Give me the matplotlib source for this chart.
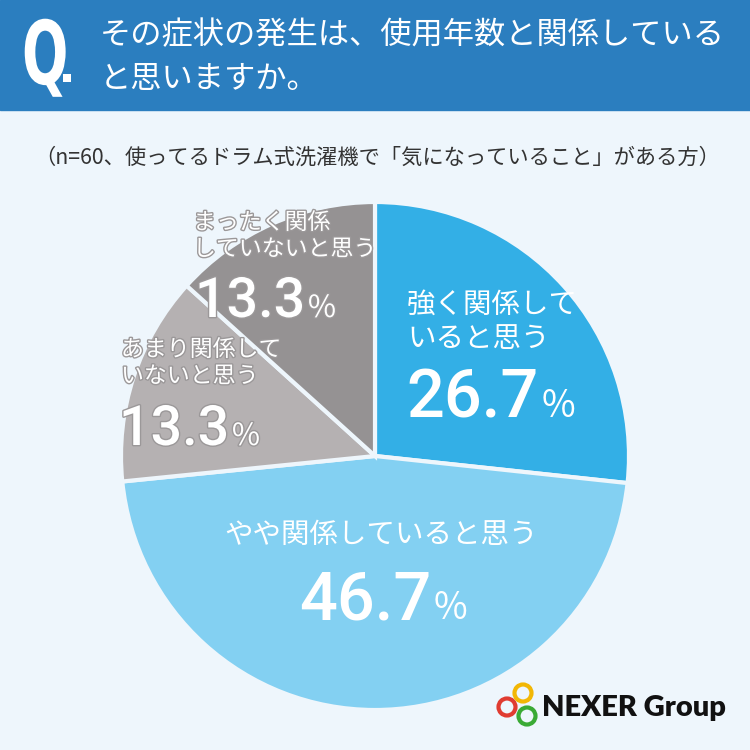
import matplotlib.pyplot as plt
import matplotlib.patheffects as pe
from matplotlib.patches import Rectangle, Circle, PathPatch
from matplotlib.textpath import TextPath
from matplotlib.font_manager import FontProperties
from matplotlib.transforms import Affine2D

plt.rcParams['font.family'] = ['Noto Sans CJK JP', 'DejaVu Sans']

# data
answers = ['強く関係して\nいると思う', 'やや関係していると思う',
           'あまり関係して\nいないと思う', 'まったく関係\nしていないと思う']
shares = [26.7, 46.7, 13.3, 13.3]
colors = ['#33afe6', '#83d0f2', '#b5b1b2', '#959293']
title = 'その症状の発生は、使用年数と関係している\nと思いますか。'
note = '（n=60、使ってるドラム式洗濯機で「気になっていること」がある方）'

W = 750
bg = '#eef6fc'
numfont = dict(family='Roboto', fontweight='medium')
fig = plt.figure(figsize=(7.5, 7.5), dpi=100, facecolor=bg)


def P(x, y):
    return x / W, 1 - y / W


# header band
fig.patches.append(Rectangle((0, 1 - 110 / W), 1, 110 / W, transform=fig.transFigure,
                             color='#2b7ebf', zorder=0))
# narrow bold Q, drawn as a squeezed text path (in pixels)
qpath = TextPath((0, 0), 'Q', size=88, prop=FontProperties(family='DejaVu Sans', weight='bold'))
qtr = Affine2D().scale(0.62, 1.0).translate(22, W - 84)
fig.patches.append(PathPatch(qtr.transform_path(qpath), color='white', lw=0,
                             transform=None, figure=fig))
fig.patches.append(Rectangle(P(63, 82), 8 / W, 8 / W, transform=fig.transFigure,
                             color='white', lw=0))
fig.text(*P(100, 57), title, color='white', fontsize=22.5, va='center', ha='left',
         linespacing=1.45)
fig.text(*P(377, 158), note, color='#333333', fontsize=15.3, va='center', ha='center')

# pie
cx, cy, r = 375, 456, 254
ax = fig.add_axes([(cx - r) / W, 1 - (cy + r) / W, 2 * r / W, 2 * r / W])
ax.pie(shares, colors=colors, startangle=90, counterclock=False,
       wedgeprops=dict(edgecolor=bg, linewidth=3))
ax.set_xlim(-1, 1)
ax.set_ylim(-1, 1)
ax.set_aspect('equal')
ax.axis('off')

renderer = fig.canvas.get_renderer()


def pct(x, y, value, size, ha='left', fx=None):
    kw = dict(color='white', va='baseline')
    if fx:
        kw['path_effects'] = fx
    t = fig.text(*P(x, y), f'{value:.1f}', fontsize=size, ha='left', **numfont, **kw)
    bb = t.get_window_extent(renderer)
    if ha == 'center':
        # shift so number + % is centered at x
        pw = size * 0.55
        shift = (bb.width + pw) / 2
        t.set_position(P(x - shift, y))
        bb = t.get_window_extent(renderer)
    fig.text(bb.x1 / W + 3 / W, P(0, y)[1], '%', fontsize=size * 0.55, ha='left',
             family='Noto Sans CJK JP', **kw)


outline = [pe.withStroke(linewidth=2, foreground='#9b9899')]

# blue slice
fig.text(*P(407, 322), answers[0], color='white', fontsize=20.5, ha='left', va='center',
         linespacing=1.2)
pct(406, 417, shares[0], 48)

# light blue slice
fig.text(*P(381, 535), answers[1], color='white', fontsize=20.5, ha='center', va='center')
pct(378, 619, shares[1], 48, ha='center')

# light gray slice
fig.text(*P(121, 363), answers[2], color='white', fontsize=16.5, ha='left', va='center',
         linespacing=1.2, path_effects=outline)
pct(119, 445, shares[2], 40, fx=outline)

# dark gray slice
fig.text(*P(193, 236), answers[3], color='white', fontsize=16.5, ha='left', va='center',
         linespacing=1.2, path_effects=outline)
pct(195, 317, shares[3], 40, fx=outline)

# logo
for (x, y), c in zip([(507, 707), (523, 693), (527, 716)], ['#e03c31', '#f2b705', '#3aaa35']):
    fig.patches.append(Circle(P(x, y), 8.5 / W, transform=fig.transFigure,
                              fill=False, edgecolor=c, linewidth=3))
fig.text(*P(542, 708), 'NEXER Group', color='#111111', fontsize=21, fontweight='heavy',
         family='Lato', ha='left', va='center')

fig.savefig('out.png', dpi=100, facecolor=bg)
